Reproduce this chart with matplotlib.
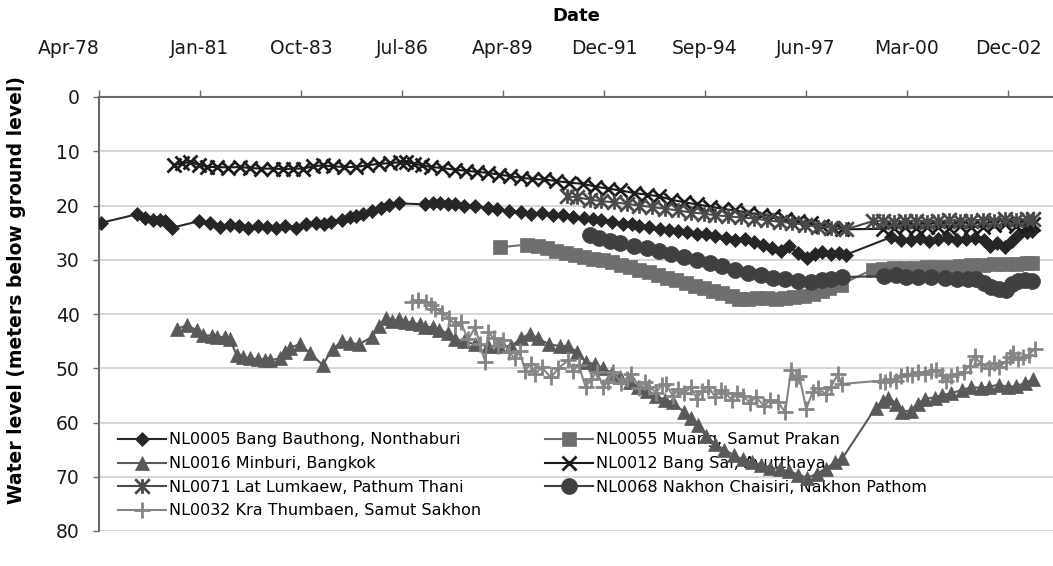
import matplotlib
matplotlib.use("Agg")
import matplotlib.pyplot as plt
import matplotlib.dates as mdates
import matplotlib.transforms as mtransforms
from matplotlib.path import Path
from datetime import datetime, timedelta

# --- data (decimal year, metres below ground level) ---
nl0005_t = [1978.35, 1979.34, 1979.55, 1979.75, 1979.95, 1980.10, 1980.28, 1981.00, 1981.30, 1981.58,
            1981.85, 1982.10, 1982.35, 1982.60, 1982.85, 1983.10, 1983.35, 1983.65, 1983.92, 1984.17,
            1984.40, 1984.60, 1984.89, 1985.10, 1985.26, 1985.45, 1985.70, 1985.95, 1986.16, 1986.43,
            1987.15, 1987.35, 1987.55, 1987.75, 1987.96, 1988.20, 1988.50, 1988.85, 1989.10, 1989.40,
            1989.74, 1990.00, 1990.30, 1990.60, 1990.87, 1991.15, 1991.45, 1991.70, 1991.92, 1992.20,
            1992.50, 1992.75, 1992.94, 1993.20, 1993.50, 1993.75, 1993.99, 1994.25, 1994.50, 1994.75,
            1995.01, 1995.30, 1995.55, 1995.80, 1996.06, 1996.30, 1996.55, 1996.79, 1997.00, 1997.25,
            1997.49, 1997.70, 1997.90, 1998.14, 1998.35, 1998.54, 1999.78, 2000.05, 2000.30, 2000.55,
            2000.80, 2001.05, 2001.30, 2001.55, 2001.80, 2002.05, 2002.30, 2002.45, 2002.65, 2002.85,
            2003.05, 2003.25, 2003.45, 2003.60]
nl0005_v = [23.2, 21.6, 22.3, 22.6, 22.7, 22.9, 24.1, 22.9, 23.3, 24.0,
            23.6, 23.8, 24.1, 23.8, 23.9, 24.1, 23.8, 24.1, 23.4, 23.2,
            23.4, 23.0, 22.6, 22.2, 22.0, 21.6, 21.0, 20.4, 19.9, 19.6,
            19.8, 19.5, 19.6, 19.8, 19.7, 20.0, 20.1, 20.4, 20.6, 21.0,
            21.2, 21.5, 21.4, 21.7, 21.8, 22.1, 22.3, 22.5, 22.7, 23.0,
            23.4, 23.5, 23.8, 24.0, 24.3, 24.5, 24.7, 24.9, 25.2, 25.3,
            25.7, 26.0, 26.3, 26.2, 26.7, 27.3, 27.9, 28.3, 27.5, 28.8,
            29.7, 28.9, 28.6, 28.9, 28.7, 29.1, 25.8, 26.3, 26.4, 26.0,
            26.5, 26.2, 26.0, 26.3, 26.1, 25.9, 26.3, 27.5, 27.0, 27.6,
            26.5, 25.2, 24.9, 24.7]

nl0055_t = [1989.17, 1989.90, 1990.20, 1990.45, 1990.70, 1990.95, 1991.20, 1991.45, 1991.70, 1991.95,
            1992.20, 1992.45, 1992.70, 1992.95, 1993.20, 1993.45, 1993.70, 1993.95, 1994.20, 1994.45,
            1994.70, 1994.95, 1995.20, 1995.45, 1995.65, 1995.90, 1996.15, 1996.40, 1996.65, 1996.90,
            1997.15, 1997.40, 1997.65, 1997.90, 1998.10, 1998.40, 1999.27, 1999.55, 1999.85, 2000.15,
            2000.45, 2000.75, 2001.05, 2001.35, 2001.65, 2001.95, 2002.25, 2002.55, 2002.85, 2003.15,
            2003.45, 2003.60]
nl0055_v = [27.7, 27.2, 27.4, 27.9, 28.4, 28.8, 29.1, 29.5, 29.8, 30.1,
            30.5, 31.0, 31.4, 31.8, 32.3, 32.8, 33.3, 33.8, 34.3, 34.8,
            35.2, 35.7, 36.2, 36.6, 37.3, 37.2, 37.0, 37.1, 37.3, 37.0,
            36.9, 36.6, 36.3, 35.8, 35.2, 34.6, 31.8, 31.7, 31.6, 31.6,
            31.5, 31.4, 31.3, 31.3, 31.1, 31.0, 30.9, 30.8, 30.7, 30.7,
            30.6, 30.6]

nl0016_t = [1980.42, 1980.69, 1980.96, 1981.13, 1981.35, 1981.50, 1981.70, 1981.85, 1982.03, 1982.20,
            1982.39, 1982.60, 1982.80, 1982.93, 1983.20, 1983.35, 1983.47, 1983.74, 1984.01, 1984.36,
            1984.63, 1984.89, 1985.10, 1985.35, 1985.70, 1985.90, 1986.07, 1986.25, 1986.43, 1986.60,
            1986.78, 1987.00, 1987.15, 1987.35, 1987.51, 1987.75, 1987.96, 1988.20, 1988.50, 1988.85,
            1989.15, 1989.47, 1989.75, 1989.98, 1990.20, 1990.50, 1990.80, 1991.02, 1991.25, 1991.49,
            1991.75, 1991.97, 1992.20, 1992.43, 1992.70, 1992.92, 1993.15, 1993.40, 1993.65, 1993.86,
            1994.16, 1994.35, 1994.53, 1994.75, 1995.00, 1995.25, 1995.50, 1995.75, 1996.00, 1996.25,
            1996.50, 1996.75, 1997.00, 1997.25, 1997.50, 1997.75, 1998.00, 1998.25, 1998.45, 1999.35,
            1999.55, 1999.70, 1999.90, 2000.08, 2000.30, 2000.50, 2000.70, 2000.95, 2001.15, 2001.40,
            2001.69, 2001.95, 2002.20, 2002.42, 2002.70, 2002.95, 2003.17, 2003.40, 2003.62]
nl0016_v = [42.7, 42.1, 43.0, 43.9, 44.0, 44.2, 44.3, 44.7, 47.6, 47.9,
            48.2, 48.3, 48.4, 48.5, 48.2, 47.0, 46.2, 45.6, 47.1, 49.4,
            46.5, 45.0, 45.3, 45.6, 44.2, 42.3, 40.7, 41.2, 41.0, 41.5,
            41.6, 41.9, 42.4, 42.4, 43.0, 43.5, 44.7, 45.0, 45.6, 45.9,
            45.9, 45.9, 44.5, 43.6, 44.5, 45.6, 45.9, 45.9, 47.0, 48.8,
            49.3, 50.0, 50.8, 51.7, 52.5, 53.4, 54.2, 55.2, 55.8, 56.3,
            58.1, 59.2, 60.4, 62.5, 64.0, 65.0, 66.0, 66.8, 67.3, 67.8,
            68.3, 68.6, 69.0, 69.6, 70.2, 69.5, 68.5, 67.3, 66.6, 57.3,
            56.0, 55.4, 56.5, 58.0, 57.8, 56.5, 55.6, 55.4, 55.0, 54.6,
            54.0, 53.5, 53.6, 53.4, 53.0, 53.5, 53.2, 52.8, 52.0]

nl0012_t = [1980.32, 1980.55, 1980.78, 1981.00, 1981.23, 1981.50, 1981.80, 1982.12, 1982.40, 1982.70,
            1983.01, 1983.30, 1983.55, 1983.82, 1984.10, 1984.36, 1984.65, 1984.95, 1985.27, 1985.55,
            1985.89, 1986.20, 1986.45, 1986.62, 1986.85, 1987.05, 1987.30, 1987.60, 1987.96, 1988.25,
            1988.55, 1988.85, 1989.15, 1989.45, 1989.74, 1990.05, 1990.36, 1990.70, 1991.05, 1991.41,
            1991.75, 1992.10, 1992.43, 1992.80, 1993.15, 1993.47, 1993.80, 1994.15, 1994.52, 1994.85,
            1995.20, 1995.53, 1995.90, 1996.25, 1996.58, 1996.90, 1997.25, 1997.60, 1997.90, 1998.20,
            1998.43, 1999.54, 1999.85, 2000.15, 2000.45, 2000.75, 2001.05, 2001.35, 2001.65, 2001.95,
            2002.25, 2002.55, 2002.85, 2003.15, 2003.45, 2003.62]
nl0012_v = [12.6, 12.2, 12.0, 12.5, 12.9, 12.9, 13.0, 12.9, 13.1, 13.2,
            13.2, 13.3, 13.2, 13.2, 12.8, 12.6, 12.8, 12.9, 12.9, 12.6,
            12.3, 12.2, 12.0, 12.0, 12.3, 12.6, 12.9, 13.1, 13.4, 13.6,
            13.8, 14.0, 14.3, 14.6, 14.9, 15.1, 15.2, 15.5, 15.8, 16.0,
            16.5, 16.9, 17.2, 17.7, 18.0, 18.3, 18.9, 19.4, 19.8, 20.2,
            20.6, 20.9, 21.4, 21.7, 22.0, 22.5, 22.8, 23.2, 23.7, 24.1,
            24.4, 24.3, 24.1, 24.0, 24.2, 24.0, 23.9, 24.1, 23.8, 24.0,
            23.9, 23.6, 23.5, 23.8, 23.6, 23.5]

nl0071_t = [1990.98, 1991.25, 1991.60, 1991.92, 1992.25, 1992.60, 1992.94, 1993.30, 1993.65, 1993.99,
            1994.35, 1994.70, 1995.01, 1995.35, 1995.70, 1996.06, 1996.40, 1996.75, 1997.09, 1997.45,
            1997.80, 1998.14, 1998.54, 1999.27, 1999.55, 1999.85, 2000.15, 2000.45, 2000.75, 2001.05,
            2001.35, 2001.65, 2001.95, 2002.25, 2002.55, 2002.85, 2003.15, 2003.45, 2003.62]
nl0071_v = [18.3, 18.5, 18.9, 19.2, 19.4, 19.7, 20.0, 20.3, 20.6, 20.9,
            21.3, 21.5, 21.8, 22.0, 22.2, 22.4, 22.7, 23.0, 23.2, 23.6,
            23.9, 24.1, 24.4, 22.9, 22.8, 23.0, 22.9, 22.8, 23.0, 22.9,
            22.7, 22.9, 22.8, 22.6, 22.8, 22.5, 22.7, 22.5, 22.4]

nl0068_t = [1991.60, 1991.85, 1992.15, 1992.43, 1992.80, 1993.15, 1993.47, 1993.80, 1994.15, 1994.52,
            1994.85, 1995.20, 1995.53, 1995.90, 1996.25, 1996.58, 1996.90, 1997.25, 1997.60, 1997.90,
            1998.14, 1998.43, 1999.57, 1999.90, 2000.18, 2000.50, 2000.85, 2001.23, 2001.55, 2001.85,
            2002.07, 2002.30, 2002.47, 2002.70, 2002.88, 2003.05, 2003.20, 2003.40, 2003.60]
nl0068_v = [25.5, 26.0, 26.5, 27.0, 27.5, 27.9, 28.4, 29.0, 29.5, 30.1,
            30.6, 31.2, 31.8, 32.4, 32.9, 33.3, 33.6, 34.0, 34.1, 33.8,
            33.5, 33.2, 33.0, 32.9, 33.1, 33.2, 33.2, 33.3, 33.5, 33.5,
            33.6, 34.2, 35.0, 35.4, 35.6, 34.5, 33.9, 33.8, 33.9]

nl0032_t = [1986.78, 1986.95, 1987.16, 1987.30, 1987.42, 1987.60, 1987.78, 1987.96, 1988.10, 1988.31,
            1988.50, 1988.62, 1988.77, 1988.85, 1989.00, 1989.12, 1989.25, 1989.40, 1989.58, 1989.70,
            1989.85, 1990.00, 1990.12, 1990.30, 1990.55, 1990.75, 1991.02, 1991.15, 1991.30, 1991.49,
            1991.65, 1991.80, 1991.97, 1992.10, 1992.24, 1992.45, 1992.60, 1992.73, 1992.95, 1993.10,
            1993.21, 1993.40, 1993.55, 1993.67, 1993.85, 1994.00, 1994.15, 1994.35, 1994.50, 1994.65,
            1994.82, 1995.00, 1995.15, 1995.28, 1995.45, 1995.60, 1995.77, 1995.95, 1996.10, 1996.33,
            1996.50, 1996.71, 1996.90, 1997.06, 1997.18, 1997.28, 1997.47, 1997.65, 1997.80, 1998.00,
            1998.14, 1998.33, 1998.43, 1999.46, 1999.60, 1999.75, 1999.90, 2000.05, 2000.20, 2000.35,
            2000.51, 2000.70, 2000.85, 2000.99, 2001.15, 2001.27, 2001.40, 2001.55, 2001.75, 2001.90,
            2002.04, 2002.20, 2002.42, 2002.55, 2002.70, 2002.88, 2003.00, 2003.08, 2003.20, 2003.36,
            2003.50, 2003.66]
nl0032_v = [37.7, 37.5, 37.8, 38.3, 39.0, 39.8, 40.7, 42.1, 41.5, 44.7,
            42.4, 45.5, 48.8, 43.3, 44.5, 45.9, 44.8, 47.0, 48.2, 46.8,
            50.5, 49.2, 51.1, 49.8, 51.7, 50.0, 48.5, 50.5, 49.4, 53.4,
            52.0, 50.6, 53.4, 52.5, 50.6, 52.8, 51.9, 51.1, 53.6, 52.6,
            53.4, 54.5, 53.1, 52.9, 55.1, 53.8, 54.6, 53.5, 55.6, 54.2,
            53.4, 55.3, 54.0, 54.6, 55.8, 54.6, 55.2, 56.4, 55.3, 56.9,
            55.9, 56.3, 58.1, 50.3, 52.0, 51.4, 57.5, 54.3, 53.6, 54.8,
            53.4, 51.1, 52.9, 52.3, 52.6, 51.9, 52.4, 51.4, 51.0, 51.3,
            50.6, 51.0, 50.5, 50.3, 51.2, 52.3, 51.5, 51.0, 50.6, 49.5,
            47.7, 49.2, 50.0, 49.0, 49.8, 48.8, 48.0, 47.1, 48.3, 47.9,
            47.5, 46.5]

labels = ["NL0005 Bang Bauthong, Nonthaburi", "NL0055 Muang, Samut Prakan",
          "NL0016 Minburi, Bangkok", "NL0012 Bang Sai, Ayutthaya",
          "NL0071 Lat Lumkaew, Pathum Thani", "NL0068 Nakhon Chaisiri, Nakhon Pathom",
          "NL0032 Kra Thumbaen, Samut Sakhon"]

# Excel-style date axis: starts at serial 28600, major unit 1000 days
EXCEL_START = 28600
EXCEL_STEP = 1000
EXCEL_END = 38046

# Excel "star" marker: an x with a vertical bar through it
STAR = Path([(-0.5, -0.5), (0.5, 0.5), (-0.5, 0.5), (0.5, -0.5), (0, -0.5), (0, 0.5)],
            [Path.MOVETO, Path.LINETO, Path.MOVETO, Path.LINETO, Path.MOVETO, Path.LINETO])

series = [
    (nl0005_t, nl0005_v, "#262626", "D", 7.4),
    (nl0055_t, nl0055_v, "#6e6e6e", "s", 10.0),
    (nl0016_t, nl0016_v, "#595959", "^", 10.5),
    (nl0012_t, nl0012_v, "#1c1c1c", "x", 10.0),
    (nl0071_t, nl0071_v, "#4a4a4a", STAR, 10.5),
    (nl0068_t, nl0068_v, "#404040", "o", 11.5),
    (nl0032_t, nl0032_v, "#858585", "+", 11.0),
]


def excel_date(serial):
    return datetime(1899, 12, 30) + timedelta(days=serial)


def year_to_num(y):
    yi = int(y)
    return mdates.date2num(datetime(yi, 1, 1)) + (y - yi) * 365.25


plt.rcParams["font.family"] = "DejaVu Sans"

fig = plt.figure(figsize=(10.53, 5.66), dpi=100)
ax = fig.add_axes([99 / 1053, 1 - 531 / 566, 1 - 99 / 1053, (531 - 97) / 566])

handles = []
for (t, v, color, marker, ms), label in zip(series, labels):
    x = [year_to_num(y) for y in t]
    edge = marker in ("x", "+") or marker is STAR
    h, = ax.plot(x, v, color=color, lw=1.5, marker=marker, markersize=ms,
                 markerfacecolor=color, markeredgecolor=color,
                 markeredgewidth=2.0 if edge else 0.5, label=label, zorder=3)
    handles.append(h)

ax.set_ylim(80, 0)
ax.set_yticks(range(0, 81, 10))
ax.set_xlim(mdates.date2num(excel_date(EXCEL_START)), mdates.date2num(excel_date(EXCEL_END)))
ax.set_xticks([mdates.date2num(excel_date(EXCEL_START + EXCEL_STEP * i)) for i in range(10)])
ax.xaxis.set_major_formatter(mdates.DateFormatter("%b-%y"))
ax.xaxis.tick_top()
ax.xaxis.set_label_position("top")

ax.grid(axis="y", color="#cfcfcf", lw=1.2, zorder=0)
ax.set_axisbelow(True)
for side in ("right", "bottom"):
    ax.spines[side].set_visible(False)
for side in ("top", "left"):
    ax.spines[side].set_color("#6a6a6a")
    ax.spines[side].set_linewidth(1.5)

ax.tick_params(axis="x", direction="out", length=5, width=1, color="#6a6a6a",
               labelsize=13.5, pad=23, labelcolor="#1a1a1a")
ax.tick_params(axis="y", direction="out", length=4, width=1, color="#6a6a6a",
               labelsize=13.5, pad=10, labelcolor="#1a1a1a")

# Excel pushed the first date label a little to the left of its tick
first = ax.get_xticklabels()[0]
first.set_transform(first.get_transform() + mtransforms.ScaledTranslation(-30 / 100, 0, fig.dpi_scale_trans))

ax.set_xlabel("Date", fontsize=13, fontweight="bold", labelpad=13)
ax.set_ylabel("Water level (meters below ground level)", fontsize=13.5, fontweight="bold")
ax.yaxis.set_label_coords(-0.077, 0.555)

order = [0, 2, 4, 6, 1, 3, 5]
leg = ax.legend([handles[i] for i in order], [labels[i] for i in order], ncol=2,
                loc="upper left", bbox_to_anchor=(0.02, 0.227), frameon=False,
                fontsize=11.5, handlelength=3.0, handletextpad=0.2, columnspacing=4.0,
                labelspacing=0.54, borderpad=0, borderaxespad=0)
leg.set_zorder(1)

fig.savefig("out.png", dpi=100)
